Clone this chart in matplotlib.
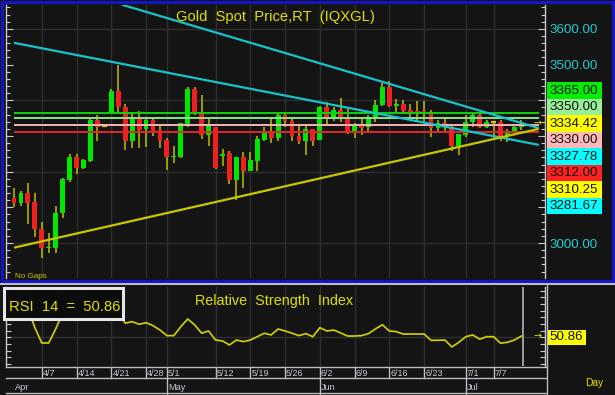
import matplotlib
matplotlib.use("Agg")
import matplotlib.pyplot as plt
import numpy as np
import pandas as pd
from matplotlib import font_manager
from matplotlib.lines import Line2D
from matplotlib.patches import Rectangle
from matplotlib.ticker import FuncFormatter, MultipleLocator
from matplotlib.transforms import blended_transform_factory

# ── Data ─────────────────────────────────────────────────────────────────────
dates = pd.bdate_range("2025-04-01", "2025-07-11")

opens = [3127, 3113, 3141, 3115, 3040, 2987, 2987, 3084, 3177, 3240,
         3210, 3230, 3345, 3327, 3365, 3426, 3381, 3287, 3351, 3320,
         3345, 3317, 3289, 3240, 3240, 3334, 3432, 3362, 3303, 3325,
         3243, 3252, 3177, 3242, 3203, 3231, 3289, 3314, 3294, 3359,
         3343, 3301, 3287, 3319, 3290, 3382, 3350, 3373, 3354, 3312,
         3328, 3325, 3352, 3387, 3437, 3383, 3390, 3373, 3370, 3369,
         3368, 3323, 3337, 3326, 3272, 3303, 3338, 3358, 3326, 3338,
         3338, 3300, 3314, 3325]
highs = [3155, 3147, 3169, 3141, 3060, 3029, 3104, 3182, 3250, 3249,
         3235, 3347, 3358, 3327, 3431, 3500, 3390, 3368, 3371, 3352,
         3350, 3331, 3295, 3272, 3337, 3437, 3438, 3415, 3350, 3326,
         3264, 3259, 3242, 3256, 3254, 3300, 3325, 3350, 3368, 3362,
         3350, 3331, 3331, 3320, 3383, 3396, 3382, 3406, 3375, 3337,
         3350, 3359, 3401, 3448, 3454, 3404, 3401, 3390, 3399, 3398,
         3372, 3345, 3350, 3328, 3306, 3359, 3365, 3364, 3344, 3342,
         3345, 3319, 3334, 3345]
lows = [3101, 3105, 3054, 3017, 2958, 2973, 2972, 3071, 3170, 3194,
        3207, 3228, 3287, 3327, 3363, 3365, 3261, 3267, 3267, 3268,
        3300, 3267, 3205, 3224, 3238, 3326, 3360, 3292, 3273, 3207,
        3216, 3166, 3121, 3154, 3203, 3203, 3287, 3280, 3287, 3325,
        3287, 3278, 3247, 3272, 3289, 3331, 3343, 3340, 3306, 3294,
        3303, 3315, 3340, 3384, 3382, 3367, 3365, 3345, 3340, 3340,
        3297, 3313, 3308, 3259, 3247, 3298, 3326, 3322, 3322, 3295,
        3287, 3284, 3308, 3317]
closes = [3113, 3141, 3113, 3040, 2987, 2990, 3084, 3179, 3240, 3210,
          3233, 3345, 3326, 3327, 3426, 3381, 3287, 3351, 3317, 3345,
          3314, 3287, 3241, 3244, 3336, 3432, 3366, 3303, 3328, 3210,
          3250, 3177, 3242, 3203, 3233, 3292, 3312, 3294, 3359, 3343,
          3300, 3287, 3319, 3287, 3382, 3354, 3373, 3352, 3310, 3328,
          3323, 3354, 3387, 3437, 3383, 3390, 3370, 3368, 3366, 3366,
          3323, 3335, 3326, 3272, 3305, 3340, 3358, 3326, 3338, 3338,
          3297, 3314, 3325, 3334.42]
rsi = [68, 69, 72, 57.2, 45.7, 45.7, 56.2, 68, 71, 69,
       69, 75, 73, 73, 77, 70, 60.5, 61.7, 59.7, 60.9,
       58.7, 55.4, 51.2, 51.2, 57.9, 63.7, 59.2, 53.0, 54.7, 47.9,
       47.2, 44.2, 47.9, 46.7, 47.9, 50.4, 53.0, 51.7, 56.2, 54.7,
       53.0, 51.2, 52.7, 50.4, 57.2, 54.7, 55.4, 53.2, 50.9, 50.9,
       51.2, 52.7, 56.2, 59.4, 54.7, 54.2, 52.4, 52.4, 52.4, 52.4,
       47.7, 47.7, 47.9, 42.7, 46.2, 50.4, 51.7, 48.5, 50.4, 50.4,
       45.5, 46.2, 47.9, 50.86]

levels = [3365.00, 3350.00, 3330.00, 3312.00]
level_colors = ["#10d010", "#8ee08e", "#f4b4b4", "#e02828"]

# trendlines: (bar index pair, price pair)
upper_trend = ([15.5, 75.5], [3668, 3322])
lower_trend = ([0, 75.5], [3561, 3275])
support_trend = ([0, 75.5], [2987, 3320])

label_values = [3365.00, 3350.00, 3334.42, 3330.00, 3327.78, 3312.00, 3310.25, 3281.67]
label_colors = ["#00ee00", "#99ee99", "#ffff00", "#ffb8b8", "#00ffff", "#ff2020", "#ffff00", "#00ffff"]
price_ticks_labeled = [3000, 3500, 3600]
grid_prices = [3000, 3200, 3400, 3600]

week_labels = ["4/7", "4/14", "4/21", "4/28", "5/1", "5/12", "5/19", "5/26",
               "6/2", "6/9", "6/16", "6/23", "7/1", "7/7"]
month_labels = ["Apr", "May", "Jun", "Jul"]
rsi_value = 50.86

# ── Style ────────────────────────────────────────────────────────────────────
BG = "#141414"
GRID = "#2e2e2e"
AXIS = "#c8c8c8"
YEL = "#e0e000"
CYAN_TXT = "#22cccc"
UP, DOWN, WICK, DOJI = "#00e600", "#f02020", "#c0c000", "#e8c000"

try:
    font_manager.findfont("Liberation Sans Narrow", fallback_to_default=False)
    FONT, SQ = "Liberation Sans Narrow", 1.0
except ValueError:
    FONT, SQ = "Liberation Sans", 0.82
plt.rcParams["font.family"] = [FONT, "DejaVu Sans"]

W, H = 615, 395


def fx(px):
    return px / W


def fy(py):
    return 1 - py / H


n = len(dates)
x = np.arange(n)
o, h, l, c = map(np.asarray, (opens, highs, lows, closes))
week_pos = [dates.get_loc(pd.Timestamp(2025, int(s.split("/")[0]), int(s.split("/")[1]))) for s in week_labels]
month_pos = [int(np.argmax(dates.month == m)) for m in (4, 5, 6, 7)]

fig = plt.figure(figsize=(6.15, 3.95), dpi=100, facecolor=BG)
ax = fig.add_axes([fx(6), fy(278), fx(545) - fx(6), fy(5) - fy(278)])
ax_rsi = fig.add_axes([fx(6), fy(366), fx(545) - fx(6), fy(287) - fy(366)])

for a in (ax, ax_rsi):
    a.set_facecolor(BG)
    a.set_xlim(-1.15, 76.4)
    a.set_xticks(week_pos)
    a.tick_params(axis="x", length=0, labelbottom=False)
    a.grid(axis="x", color=GRID, lw=1)
    for side in ("top", "bottom"):
        a.spines[side].set_visible(False)
    for side in ("left", "right"):
        a.spines[side].set_color(AXIS)
        a.spines[side].set_linewidth(1)
    a.set_axisbelow(True)

# ── Price panel ──────────────────────────────────────────────────────────────
ax.set_ylim(2902, 3667)
for g in grid_prices:
    ax.axhline(g, color=GRID, lw=1, zorder=0)
ax.yaxis.set_major_locator(MultipleLocator(100))
ax.yaxis.set_minor_locator(MultipleLocator(20))
ax.yaxis.set_major_formatter(FuncFormatter(
    lambda v, _: f"{v:.2f}" if round(v) in price_ticks_labeled else ""))
ax.tick_params(axis="y", which="both", direction="in", left=True, right=True,
               labelleft=False, labelright=True, colors=AXIS,
               labelcolor=CYAN_TXT, labelsize=11.7 * SQ, pad=3)
ax.tick_params(axis="y", which="major", length=5)
ax.tick_params(axis="y", which="minor", length=3, width=0.8)

ax.vlines(x, l, h, color=WICK, lw=1.1, zorder=3)
body = c != o
ax.bar(x[body], np.abs(c - o)[body], bottom=np.minimum(o, c)[body], width=0.7,
       color=np.where(c > o, UP, DOWN)[body], lw=0, zorder=4)
ax.hlines(c[~body], x[~body] - 0.35, x[~body] + 0.35, color=DOJI, lw=1.6, zorder=4)

for lev, col in zip(levels, level_colors):
    ax.hlines(lev, 0, 75.6, color=col, lw=1.4, zorder=5)
for (tx, tp), col in zip((upper_trend, lower_trend, support_trend),
                         ("#18c4cc", "#18c4cc", "#c8c800")):
    ax.plot(tx, tp, color=col, lw=1.6, zorder=6, solid_capstyle="butt")

ax.text(75.3, closes[-1], "→", color=YEL, fontsize=7, va="center", ha="center",
        family="DejaVu Sans", zorder=7)

fig.text(fx(275), fy(20.5), "Gold  Spot  Price,RT  (IQXGL)", color=YEL,
         fontsize=13 * SQ, ha="center", va="baseline")
fig.text(fx(15), fy(277.5), "No Gaps", color="#c8c800", fontsize=7 * SQ,
         ha="left", va="baseline")

for k, (val, col) in enumerate(zip(label_values, label_colors)):
    top = 82 + k * 16.5
    fig.add_artist(Rectangle((fx(547), fy(top + 16.5)), fx(602) - fx(547), 16.5 / H,
                             transform=fig.transFigure, fc=col, ec="none"))
    fig.text(fx(549), fy(top + 8.6), f"{val:.2f}", color="#101010",
             fontsize=11.7 * SQ, ha="left", va="center")

# ── RSI panel ────────────────────────────────────────────────────────────────
ax_rsi.set_ylim(28.4, 87.7)
ax_rsi.axhline(50, color=GRID, lw=1, zorder=0)
ax_rsi.yaxis.set_major_locator(MultipleLocator(5))
ax_rsi.tick_params(axis="y", which="both", direction="in", left=True, right=True,
                   labelleft=False, labelright=False, colors=AXIS, length=3.5)
ax_rsi.plot(x, rsi, color="#d4d400", lw=1.2, zorder=4)
ax_rsi.axvline(x[-1] + 0.2, color="#b4b4b4", lw=1.2, zorder=3)
ax_rsi.text(75.3, rsi_value, "→", color=YEL, fontsize=7, va="center", ha="center",
            family="DejaVu Sans", zorder=7)

fig.add_artist(Rectangle((fx(3.5), fy(318.5)), fx(123) - fx(3.5), 31 / H,
                         transform=fig.transFigure, fc="#0c0c0c", ec="#e6e6e6", lw=2.2))
fig.text(fx(9), fy(311), "RSI  14  =  " + f"{rsi_value:.2f}", color=YEL,
         fontsize=13 * SQ, ha="left", va="baseline")
fig.text(fx(274), fy(305), "Relative  Strength  Index", color=YEL,
         fontsize=12.6 * SQ, ha="center", va="baseline")

fig.add_artist(Rectangle((fx(547), fy(344.5)), fx(586) - fx(547), 15 / H,
                         transform=fig.transFigure, fc="#ffff00", ec="none"))
fig.text(fx(549), fy(337.5), f"{rsi_value:.2f}", color="#101010",
         fontsize=11.7 * SQ, ha="left", va="center")

# ── Date axis ────────────────────────────────────────────────────────────────
SEP = "#bcbcbc"
bt = blended_transform_factory(ax_rsi.transData, fig.transFigure)
for yy in (367, 378, 393):
    fig.add_artist(Line2D([fx(6), fx(546)], [fy(yy), fy(yy)], transform=fig.transFigure,
                          color=SEP, lw=1))
for pos, lab in zip(week_pos, week_labels):
    fig.add_artist(Line2D([pos, pos], [fy(367), fy(378)], transform=bt, color=SEP, lw=1))
    fig.text(pos + 0.15, fy(376.5), lab, transform=bt, color="#c4ccd8",
             fontsize=7.8 * SQ, ha="left", va="baseline")
for pos, lab in zip(month_pos, month_labels):
    if pos > 0:
        fig.add_artist(Line2D([pos, pos], [fy(378), fy(395)], transform=bt, color=SEP, lw=1))
    fig.text(pos + 0.15, fy(389.5), lab, transform=bt, color="#c4ccd8",
             fontsize=8 * SQ, ha="left", va="baseline")
fig.text(fx(585), fy(386), "Day", color=YEL, fontsize=9 * SQ, ha="left", va="baseline")

# frames
fig.add_artist(Line2D([0, 1], [fy(284), fy(284)], transform=fig.transFigure,
                      color="#bcbcbc", lw=1.5))
fig.add_artist(Line2D([fx(546.5), fx(546.5)], [fy(285), 0], transform=fig.transFigure,
                      color=SEP, lw=1))
fig.add_artist(Rectangle((fx(1.5), fy(280.5)), fx(612.5) - fx(1.5), 279 / H,
                         transform=fig.transFigure, fc="none", ec="#1414c8", lw=2.2))

fig.savefig("out.png", dpi=100, facecolor=BG)
